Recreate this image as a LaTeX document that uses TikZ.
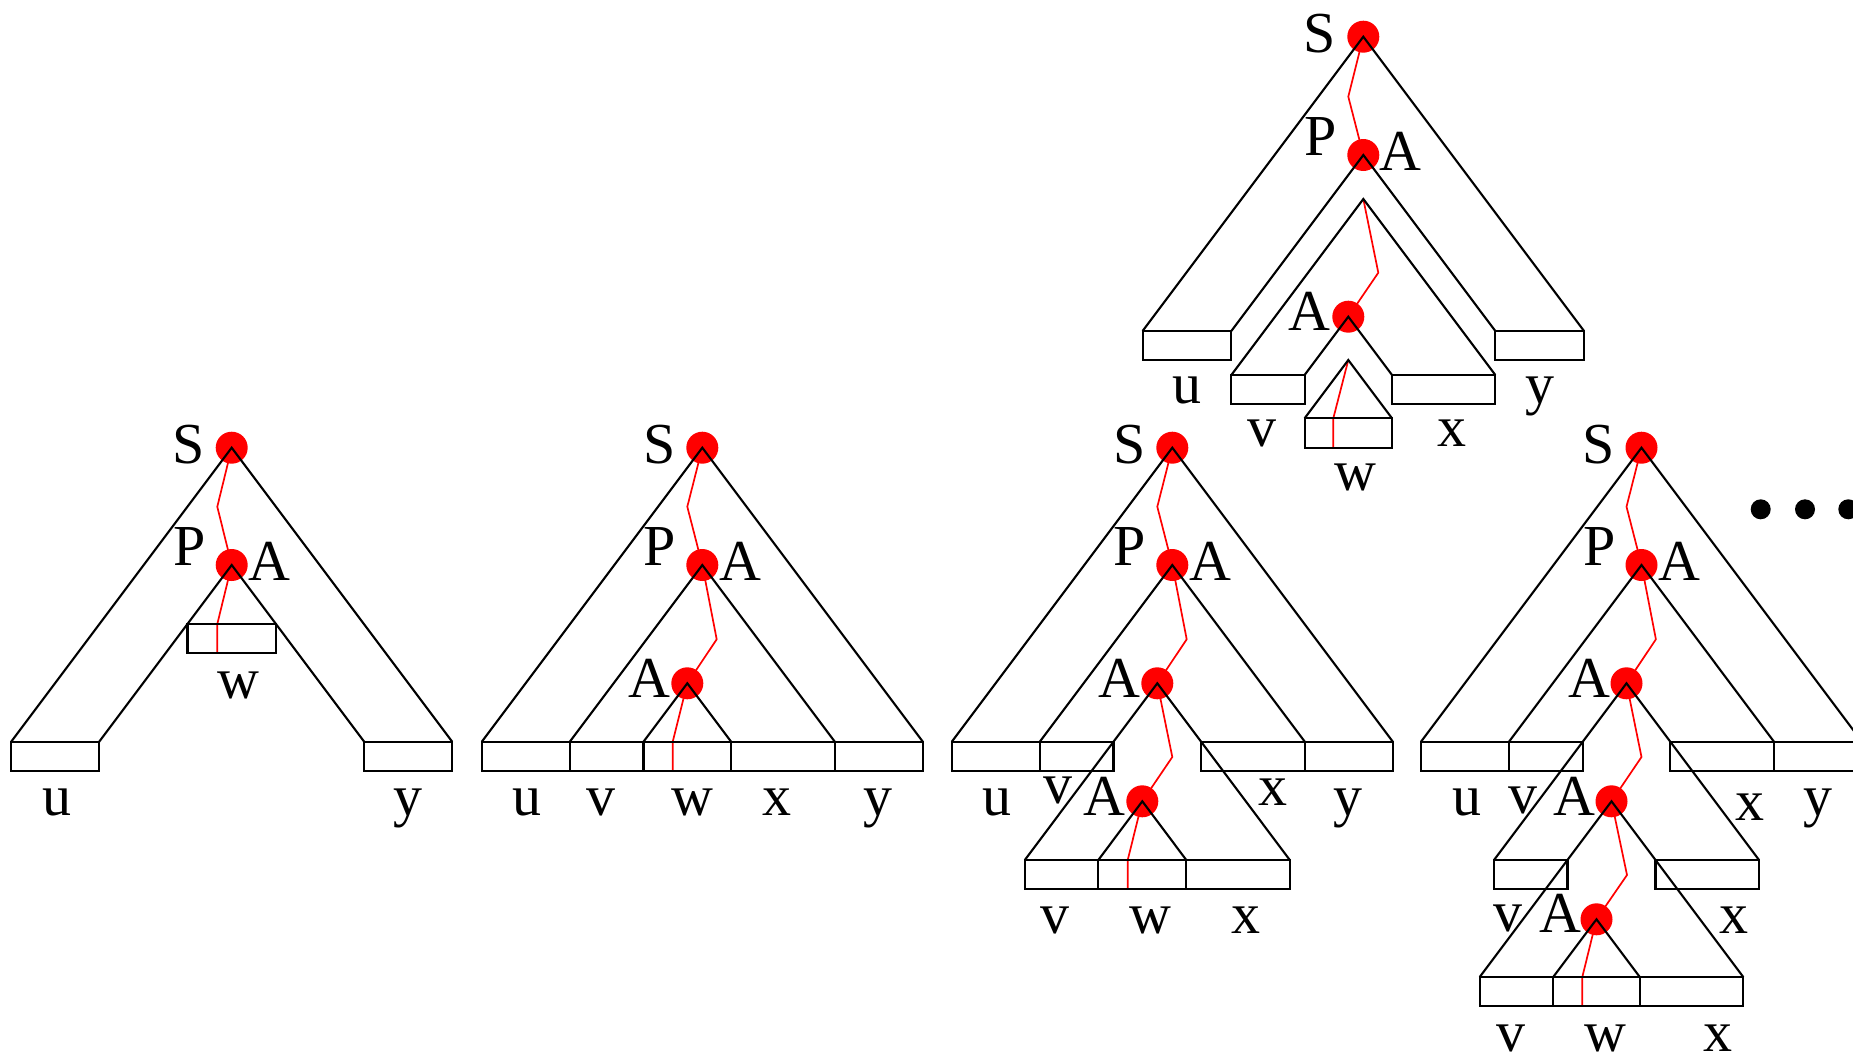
\documentclass[tikz,border=0pt]{standalone}
\usepackage{fontspec}
\setmainfont{Liberation Serif}
\newcommand\labfont{\fontsize{58}{70}\selectfont}
\tikzset{
  tri/.style={draw=black, line width=2.1pt, line join=miter},
  bx/.style={draw=black, line width=2.1pt},
  redpath/.style={draw=red, line width=1.7pt, line join=round},
  dot/.style={circle, fill=red, minimum size=32pt, inner sep=0pt},
  ell/.style={circle, fill=black, minimum size=20pt, inner sep=0pt},
  lab/.style={anchor=base, inner sep=0pt, font=\labfont}
}
\begin{document}
\begin{tikzpicture}[x=1pt,y=-1pt]
\useasboundingbox (0,0) rectangle (1853,1052);
\clip (0,0) rectangle (1853,1052);

% ================= Diagram 1 =================
\node[dot] (aS) at (231.7,447.7) {};
\node[dot] (aA) at (231.7,565) {};
\coordinate (aE) at (217.3,653.3);
\draw[redpath] (aS.center) -- (217.3,506.7) -- (aA.center) -- (217.3,624) -- (aE);
\draw[bx] (11.2,741.7) rectangle (99.2,770.7);
\draw[bx] (364.2,741.7) rectangle (452.2,770.7);
\draw[bx] (187.5,624) rectangle (276,653.3);
\draw[tri] (11.2,741.7) -- (aS.center) -- (452.2,741.7);
\draw[tri] (99.2,741.7) -- (aA.center) -- (364.2,741.7);
\node[lab] (aLS) at (188.7,463.5) {S};
\node[lab] (aLP) at (189.5,565.7) {P};
\node[lab] (aLA) at (269.5,580) {A};
\node[lab] (aLw) at (238.3,698.3) {w};
\node[lab] (aLu) at (56.7,815) {u};
\node[lab] (aLy) at (408.3,815) {y};

% ================= Diagram 2 =================
\node[dot] (bS) at (702.3,447.7) {};
\node[dot] (bA) at (702.3,565) {};
\node[dot] (bB) at (687.3,683.3) {};
\coordinate (bE) at (672.7,770.7);
\draw[redpath] (bS.center) -- (687.3,506.7) -- (bA.center) -- (716.7,639.3) -- (bB.center) -- (672.7,741.7) -- (bE);
\draw[bx] (481.8,741.7) rectangle (569.8,770.7);
\draw[bx] (569.8,741.7) rectangle (643.5,770.7);
\draw[bx] (643.5,741.7) rectangle (731.1,770.7);
\draw[bx] (731.1,741.7) rectangle (834.8,770.7);
\draw[bx] (834.8,741.7) rectangle (922.8,770.7);
\draw[tri] (481.8,741.7) -- (bS.center) -- (922.8,741.7);
\draw[tri] (569.8,741.7) -- (bA.center) -- (834.8,741.7);
\draw[tri] (643.5,741.7) -- (bB.center) -- (731.1,741.7);
\node[lab] (bLS) at (659.3,463.5) {S};
\node[lab] (bLP) at (660.1,565.7) {P};
\node[lab] (bLA) at (740.1,580) {A};
\node[lab] (bLB) at (649.8,697.7) {A};
\node[lab] (bLu) at (526.7,815) {u};
\node[lab] (bLv) at (600.8,815) {v};
\node[lab] (bLw) at (692.5,815) {w};
\node[lab] (bLx) at (776.7,815) {x};
\node[lab] (bLy) at (878.3,815) {y};

% ================= Diagram 3 =================
\node[dot] (cS) at (1172.3,447.7) {};
\node[dot] (cA) at (1172.3,565) {};
\node[dot] (cB) at (1157.3,683.3) {};
\node[dot] (cC) at (1142.3,801.3) {};
\coordinate (cE) at (1127.7,889);
\draw[redpath] (cS.center) -- (1157.3,506.7) -- (cA.center) -- (1186.7,639.3) -- (cB.center) -- (1172.3,757) -- (cC.center) -- (1127.7,860) -- (cE);
\draw[bx] (951.8,741.7) rectangle (1039.8,770.7);
\draw[bx] (1039.8,741.7) rectangle (1113.5,770.7);
\draw[bx] (1201.1,741.7) rectangle (1304.8,770.7);
\draw[bx] (1304.8,741.7) rectangle (1392.8,770.7);
\draw[bx] (1024.8,860) rectangle (1098.3,889);
\draw[bx] (1098.3,860) rectangle (1186.3,889);
\draw[bx] (1186.3,860) rectangle (1289.8,889);
\draw[tri] (951.8,741.7) -- (cS.center) -- (1392.8,741.7);
\draw[tri] (1039.8,741.7) -- (cA.center) -- (1304.8,741.7);
\draw[tri] (1024.8,860) -- (cB.center) -- (1289.8,860);
\draw[tri] (1098.3,860) -- (cC.center) -- (1186.3,860);
\node[lab] (cLS) at (1129.3,463.5) {S};
\node[lab] (cLP) at (1130.1,565.7) {P};
\node[lab] (cLA) at (1210.1,580) {A};
\node[lab] (cLB) at (1119.8,697.7) {A};
\node[lab] (cLC) at (1104.2,815) {A};
\node[lab] (cLu) at (996.7,815) {u};
\node[lab] (cLv) at (1058.3,803.3) {v};
\node[lab] (cLx) at (1273.3,805) {x};
\node[lab] (cLy) at (1348.3,815) {y};
\node[lab] (cLv2) at (1055,933.3) {v};
\node[lab] (cLw2) at (1150,933.3) {w};
\node[lab] (cLx2) at (1245.8,933.3) {x};

% ================= Diagram 4 =================
\node[dot] (dS) at (1641.5,447.7) {};
\node[dot] (dA) at (1641.5,565) {};
\node[dot] (dB) at (1626.5,683.3) {};
\node[dot] (dC) at (1611.5,801.3) {};
\node[dot] (dD) at (1596.5,919.3) {};
\coordinate (dE) at (1582.3,1006);
\draw[redpath] (dS.center) -- (1626.5,506.7) -- (dA.center) -- (1655.9,639.3) -- (dB.center) -- (1641.5,757) -- (dC.center) -- (1627,875) -- (dD.center) -- (1582.3,977) -- (dE);
\draw[bx] (1421,741.7) rectangle (1509,770.7);
\draw[bx] (1509,741.7) rectangle (1582.7,770.7);
\draw[bx] (1670.3,741.7) rectangle (1774,770.7);
\draw[bx] (1774,741.7) rectangle (1862,770.7);
\draw[bx] (1494,860) rectangle (1567.5,889);
\draw[bx] (1655.5,860) rectangle (1759,889);
\draw[bx] (1479.7,977) rectangle (1553.2,1006);
\draw[bx] (1553.2,977) rectangle (1639.8,1006);
\draw[bx] (1639.8,977) rectangle (1743.3,1006);
\draw[tri] (1421,741.7) -- (dS.center) -- (1862,741.7);
\draw[tri] (1509,741.7) -- (dA.center) -- (1774,741.7);
\draw[tri] (1494,860) -- (dB.center) -- (1759,860);
\draw[tri] (1479.7,977) -- (dC.center) -- (1743.3,977);
\draw[tri] (1553.2,977) -- (dD.center) -- (1639.8,977);
\node[lab] (dLS) at (1598.5,463.5) {S};
\node[lab] (dLP) at (1599.3,565.7) {P};
\node[lab] (dLA) at (1679.3,580) {A};
\node[lab] (dLB) at (1589,697.7) {A};
\node[lab] (dLC) at (1574.2,815) {A};
\node[lab] (dLD) at (1560,932.5) {A};
\node[lab] (dLu) at (1466.7,815) {u};
\node[lab] (dLv) at (1523.3,813.3) {v};
\node[lab] (dLx) at (1750,820) {x};
\node[lab] (dLy) at (1818.3,815) {y};
\node[lab] (dLv2) at (1507.5,931.7) {v};
\node[lab] (dLx2) at (1734.2,933) {x};
\node[lab] (dLv3) at (1510.8,1051) {v};
\node[lab] (dLw3) at (1605,1051) {w};
\node[lab] (dLx3) at (1717.5,1051) {x};
\node[ell] (e1) at (1760.7,509.3) {};
\node[ell] (e2) at (1805,509.3) {};
\node[ell] (e3) at (1848.3,509.3) {};

% ================= Top diagram =================
\node[dot] (tS) at (1363.3,36.7) {};
\node[dot] (tA) at (1363.3,155) {};
\coordinate (tP) at (1363.3,199);
\node[dot] (tB) at (1348.3,316.7) {};
\coordinate (tQ) at (1348.3,360);
\coordinate (tE) at (1333.3,447.7);
\draw[redpath] (tS.center) -- (1348.3,96.7) -- (tA.center);
\draw[redpath] (tP) -- (1378.3,272.7) -- (tB.center);
\draw[redpath] (tQ) -- (1333.3,418.3) -- (tE);
\draw[bx] (1142.6,331) rectangle (1231.3,360);
\draw[bx] (1495.3,331) rectangle (1584,360);
\draw[bx] (1231.3,375) rectangle (1304.6,404.3);
\draw[bx] (1392,375) rectangle (1495.3,404.3);
\draw[bx] (1304.6,418.3) rectangle (1392,447.7);
\draw[tri] (1142.6,331) -- (tS.center) -- (1584,331);
\draw[tri] (1231.3,331) -- (tA.center) -- (1495.3,331);
\draw[tri] (1231.3,375) -- (tP) -- (1495.3,375);
\draw[tri] (1304.6,375) -- (tB.center) -- (1392,375);
\draw[tri] (1304.6,418.3) -- (tQ) -- (1392,418.3);
\node[lab] (tLS) at (1320,52.5) {S};
\node[lab] (tLP) at (1320.8,155) {P};
\node[lab] (tLA) at (1400.8,170) {A};
\node[lab] (tLB) at (1309,330) {A};
\node[lab] (tLu) at (1186.7,403.3) {u};
\node[lab] (tLy) at (1540,403.3) {y};
\node[lab] (tLv) at (1261.7,446.7) {v};
\node[lab] (tLx) at (1451.7,446.7) {x};
\node[lab] (tLw) at (1355.8,490) {w};
\end{tikzpicture}
\end{document}
